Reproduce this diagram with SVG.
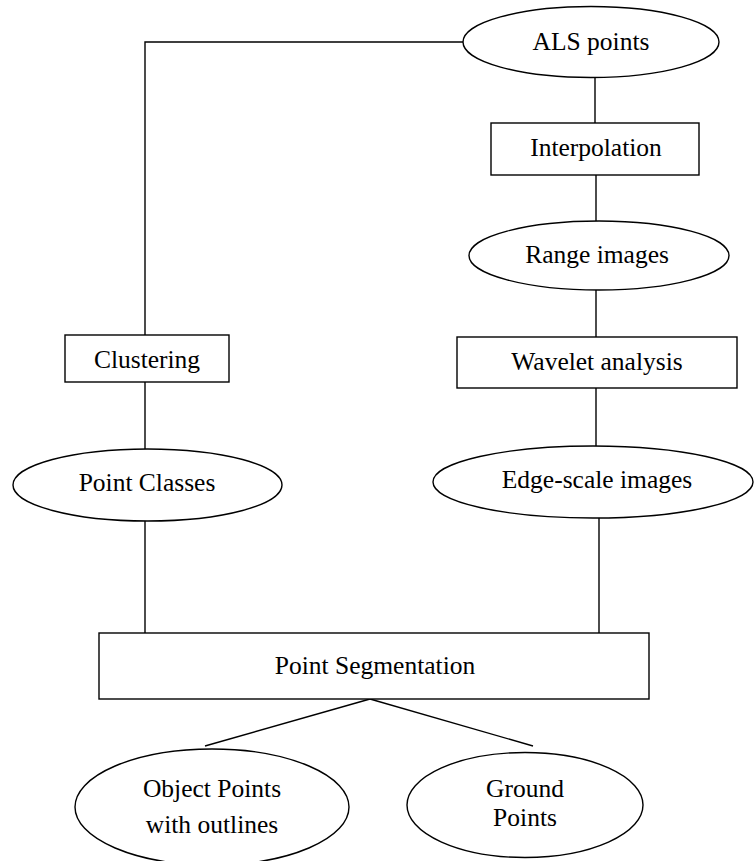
<svg xmlns="http://www.w3.org/2000/svg" width="754" height="861" viewBox="0 0 754 861">
<style>
  .shape { fill: #ffffff; stroke: #000000; stroke-width: 1.4; }
  .conn { fill: none; stroke: #000000; stroke-width: 1.4; }
  .lbl { font-family: "Liberation Serif", "Times New Roman", serif; font-size: 25.5px; fill: #000000; text-anchor: middle; }
</style>
<rect x="0" y="0" width="754" height="861" fill="#ffffff"/>
<g id="connectors">
  <polyline class="conn" points="463,42 145,42 145,335"/>
  <line class="conn" x1="595" y1="77" x2="595" y2="123"/>
  <line class="conn" x1="596" y1="175" x2="596" y2="221"/>
  <line class="conn" x1="596" y1="290" x2="596" y2="337"/>
  <line class="conn" x1="596" y1="388" x2="596" y2="446"/>
  <line class="conn" x1="145" y1="382" x2="145" y2="449"/>
  <line class="conn" x1="145" y1="521" x2="145" y2="633"/>
  <line class="conn" x1="599" y1="517" x2="599" y2="633"/>
  <line class="conn" x1="370" y1="699" x2="205" y2="746"/>
  <line class="conn" x1="370" y1="699" x2="533" y2="746"/>
</g>
<g id="als-points">
  <ellipse class="shape" cx="591" cy="42" rx="128" ry="35.5"/>
  <text class="lbl" x="591" y="50">ALS points</text>
</g>
<g id="interpolation">
  <rect class="shape" x="491" y="123" width="208" height="52"/>
  <text class="lbl" x="596" y="156">Interpolation</text>
</g>
<g id="range-images">
  <ellipse class="shape" cx="599" cy="255.5" rx="130" ry="34.5"/>
  <text class="lbl" x="597" y="263">Range images</text>
</g>
<g id="wavelet-analysis">
  <rect class="shape" x="457" y="337" width="280" height="51"/>
  <text class="lbl" x="597" y="370">Wavelet analysis</text>
</g>
<g id="edge-scale-images">
  <ellipse class="shape" cx="593" cy="482" rx="160" ry="36"/>
  <text class="lbl" x="597" y="488">Edge-scale images</text>
</g>
<g id="clustering">
  <rect class="shape" x="65" y="335" width="164" height="47"/>
  <text class="lbl" x="147" y="368">Clustering</text>
</g>
<g id="point-classes">
  <ellipse class="shape" cx="147.5" cy="485" rx="134.5" ry="36"/>
  <text class="lbl" x="147" y="491">Point Classes</text>
</g>
<g id="point-segmentation">
  <rect class="shape" x="99" y="633" width="550" height="66"/>
  <text class="lbl" x="375" y="674">Point Segmentation</text>
</g>
<g id="object-points">
  <ellipse class="shape" cx="212" cy="807" rx="137" ry="58"/>
  <text class="lbl" x="212" y="797">Object Points</text>
  <text class="lbl" x="212" y="833">with outlines</text>
</g>
<g id="ground-points">
  <ellipse class="shape" cx="525" cy="805" rx="118" ry="52.5"/>
  <text class="lbl" x="525" y="797">Ground</text>
  <text class="lbl" x="525" y="826">Points</text>
</g>
</svg>
